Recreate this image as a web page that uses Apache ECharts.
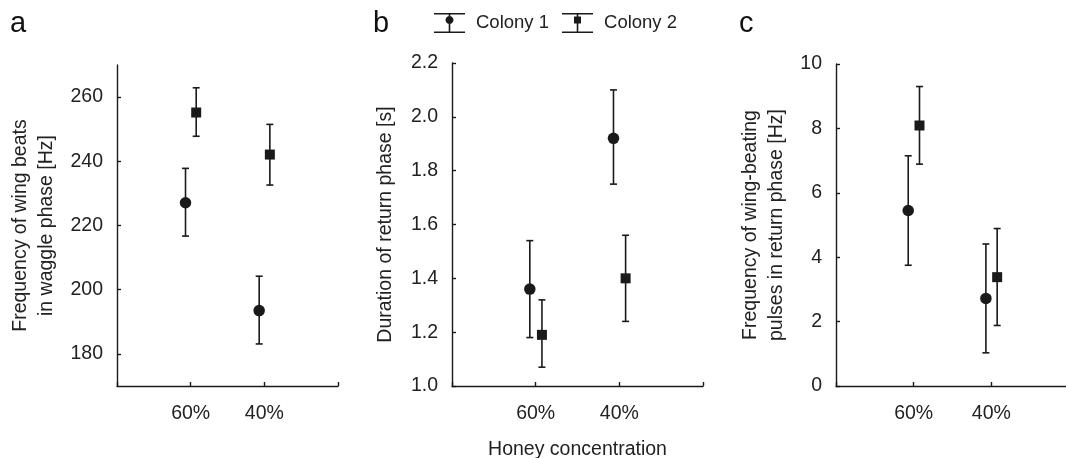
<!DOCTYPE html>
<html>
<head>
<meta charset="utf-8">
<script src="https://cdn.jsdelivr.net/npm/echarts@6/dist/echarts.min.js"></script>
<style>
html,body{margin:0;padding:0;background:#fff;}
#chart{width:1066px;height:458px;}
</style>
</head>
<body>
<div id="chart"></div>
<script>
// ---- data ----
var categories = ['60%', '40%'];
var seriesNames = ['Colony 1', 'Colony 2'];

// Panel a: Frequency of wing beats in waggle phase [Hz]
var aC1Mean = [227.1, 193.5], aC1Low = [216.7, 183.1], aC1High = [237.8, 204.2];
var aC2Mean = [255.2, 242.1], aC2Low = [247.8, 232.6], aC2High = [262.9, 251.5];
var aTicks = [180, 200, 220, 240, 260];

// Panel b: Duration of return phase [s]
var bC1Mean = [1.36, 1.92], bC1Low = [1.18, 1.75], bC1High = [1.54, 2.10];
var bC2Mean = [1.19, 1.40], bC2Low = [1.07, 1.24], bC2High = [1.32, 1.56];

// Panel c: Frequency of wing-beating pulses in return phase [Hz]
var cC1Mean = [5.45, 2.72], cC1Low = [3.75, 1.03], cC1High = [7.15, 4.41];
var cC2Mean = [8.09, 3.38], cC2Low = [6.89, 1.88], cC2High = [9.30, 4.89];

// ---- rendering ----
var FONT = "'Liberation Sans', Arial, sans-serif";
var INK = '#1a1a1a';
var TXT = '#222';
var FS = 19.5;
var dodge = [-0.07, 0.075];

function errRender(params, api) {
  var x = api.value(0), lo = api.value(1), hi = api.value(2);
  var p1 = api.coord([x, hi]), p2 = api.coord([x, lo]);
  var hw = 3.5;
  var st = {stroke: INK, lineWidth: 1.6, fill: null};
  return {type: 'group', children: [
    {type: 'line', shape: {x1: p1[0], y1: p1[1], x2: p2[0], y2: p2[1]}, style: st},
    {type: 'line', shape: {x1: p1[0] - hw, y1: p1[1], x2: p1[0] + hw, y2: p1[1]}, style: st},
    {type: 'line', shape: {x1: p2[0] - hw, y1: p2[1], x2: p2[0] + hw, y2: p2[1]}, style: st}
  ]};
}

function makeSeries(gridIdx, k, mean, low, high) {
  var errData = [], ptData = [];
  for (var i = 0; i < categories.length; i++) {
    var x = i + 1 + dodge[k];
    errData.push([x, low[i], high[i]]);
    ptData.push([x, mean[i]]);
  }
  return [
    {name: seriesNames[k], type: 'custom', xAxisIndex: gridIdx, yAxisIndex: gridIdx,
     renderItem: errRender, data: errData, itemStyle: {color: INK}, z: 2, silent: true},
    {name: seriesNames[k], type: 'scatter', xAxisIndex: gridIdx, yAxisIndex: gridIdx,
     symbol: k === 0 ? 'circle' : 'rect', symbolSize: k === 0 ? 11.5 : 10,
     itemStyle: {color: INK, opacity: 1}, data: ptData, z: 3, silent: true}
  ];
}

function xAxisCfg(gridIdx, extra) {
  var o = {
    type: 'value', gridIndex: gridIdx, min: 0, max: 3, interval: 1,
    axisLine: {show: true, onZero: false, lineStyle: {color: INK, width: 1.4}},
    axisTick: {show: true, inside: true, length: 4, lineStyle: {color: INK, width: 1.4}},
    axisLabel: {margin: 18, color: TXT, fontSize: FS, fontFamily: FONT,
      formatter: function (v) { var i = Math.round(v) - 1; return (i >= 0 && i < categories.length) ? categories[i] : ''; }},
    splitLine: {show: false}
  };
  if (extra) for (var k in extra) o[k] = extra[k];
  return o;
}

function yAxisCfg(gridIdx, extra) {
  var o = {
    type: 'value', gridIndex: gridIdx,
    axisLine: {show: true, onZero: false, lineStyle: {color: INK, width: 1.4}},
    axisTick: {show: true, inside: true, length: 4, lineStyle: {color: INK, width: 1.4}},
    axisLabel: {margin: 14, color: TXT, fontSize: FS, fontFamily: FONT},
    splitLine: {show: false},
    nameLocation: 'middle', nameRotate: 90,
    nameTextStyle: {color: TXT, fontSize: FS, fontFamily: FONT, lineHeight: 26}
  };
  if (extra) {
    for (var k in extra) {
      if (k === 'axisLabel' || k === 'axisTick') {
        for (var j in extra[k]) o[k][j] = extra[k][j];
      } else o[k] = extra[k];
    }
  }
  return o;
}

var capsPath = 'M0,0H31V1.6H0Z M0,18.4H31V20H0Z M14.7,0H16.3V20H14.7Z ';
var circlePath = 'path://' + capsPath + 'M15.5,3C17.66,3 19.5,4.84 19.5,7C19.5,9.16 17.66,11 15.5,11C13.34,11 11.5,9.16 11.5,7C11.5,4.84 13.34,3 15.5,3Z';
var squarePath = 'path://' + capsPath + 'M12,3.5H19V10.5H12Z';

var series = []
  .concat(makeSeries(0, 0, aC1Mean, aC1Low, aC1High))
  .concat(makeSeries(0, 1, aC2Mean, aC2Low, aC2High))
  .concat(makeSeries(1, 0, bC1Mean, bC1Low, bC1High))
  .concat(makeSeries(1, 1, bC2Mean, bC2Low, bC2High))
  .concat(makeSeries(2, 0, cC1Mean, cC1Low, cC1High))
  .concat(makeSeries(2, 1, cC2Mean, cC2Low, cC2High));

var option = {
  animation: false,
  backgroundColor: '#fff',
  textStyle: {fontFamily: FONT},
  graphic: [
    {type: 'text', left: 10, top: 9, style: {text: 'a', font: '29px ' + FONT, fill: '#111'}},
    {type: 'text', left: 373, top: 9, style: {text: 'b', font: '29px ' + FONT, fill: '#111'}},
    {type: 'text', left: 739, top: 9, style: {text: 'c', font: '29px ' + FONT, fill: '#111'}}
  ],
  legend: {
    left: 434, top: 13, padding: 0, itemWidth: 31, itemHeight: 20, itemGap: 13,
    selectedMode: false,
    textStyle: {color: TXT, fontSize: 18.5, fontFamily: FONT, padding: [0, 0, 0, 6]},
    data: [
      {name: seriesNames[0], icon: circlePath, itemStyle: {color: INK}},
      {name: seriesNames[1], icon: squarePath, itemStyle: {color: INK}}
    ]
  },
  grid: [
    {left: 117, top: 65, width: 221, bottom: 72, outerBoundsMode: 'none', containLabel: false},
    {left: 452, top: 63, width: 251, bottom: 72, outerBoundsMode: 'none', containLabel: false},
    {left: 836, top: 64, width: 233, bottom: 72, outerBoundsMode: 'none', containLabel: false}
  ],
  xAxis: [
    xAxisCfg(0),
    xAxisCfg(1, {name: 'Honey concentration', nameLocation: 'middle', nameGap: 54,
      nameTextStyle: {color: TXT, fontSize: FS, fontFamily: FONT}}),
    xAxisCfg(2)
  ],
  yAxis: [
    yAxisCfg(0, {min: 170, max: 270, name: 'Frequency of wing beats\nin waggle phase [Hz]', nameGap: 57,
      axisTick: {customValues: aTicks}, axisLabel: {customValues: aTicks}}),
    yAxisCfg(1, {min: 1.0, max: 2.2, interval: 0.2, name: 'Duration of return phase [s]', nameGap: 53,
      axisLabel: {formatter: function (v) { return v.toFixed(1); }}}),
    yAxisCfg(2, {min: 0, max: 10, interval: 2, name: 'Frequency of wing-beating\npulses in return phase [Hz]', nameGap: 46})
  ],
  series: series
};

var chart = echarts.init(document.getElementById('chart'), null, {renderer: 'canvas'});
chart.setOption(option);
</script>
</body>
</html>
